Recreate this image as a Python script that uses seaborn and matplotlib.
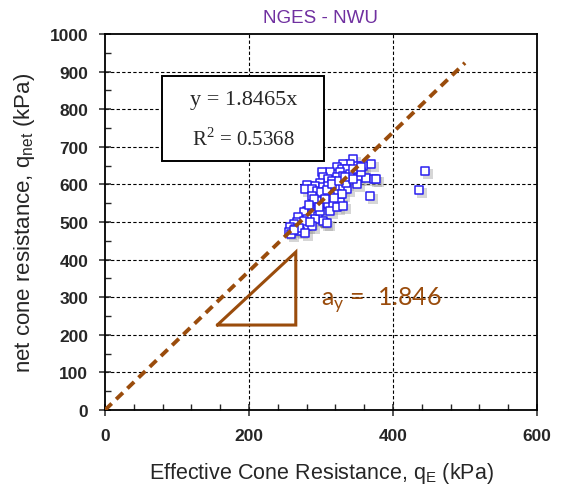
import numpy as np
import pandas as pd
import matplotlib
matplotlib.use("Agg")
import matplotlib.pyplot as plt
import matplotlib.transforms as mtransforms
from matplotlib.patches import Rectangle
import seaborn as sns

# ---- data ----
qE = [345, 370, 359, 350, 340, 330, 322, 329, 336, 319, 326, 312, 301, 303, 310, 322, 331, 340,
      352, 363, 373, 377, 350, 336, 326, 315, 299, 292, 280, 278, 287, 294, 303, 310, 319, 322,
      312, 303, 296, 287, 301, 310, 317, 326, 292, 285, 280, 276, 287, 296, 303, 308, 292, 280,
      268, 266, 273, 280, 287, 262, 257, 264, 271, 255, 259, 276, 299, 312, 322, 331, 294, 306,
      329, 335, 345, 356, 444, 436, 368,
      300, 308, 315, 325, 333, 290, 283, 305, 318, 297, 285, 270, 262, 278, 345, 355]
qnet = [668, 654, 650, 650, 654, 654, 645, 641, 641, 628, 632, 632, 632, 619, 614, 619, 623, 628,
        616, 616, 614, 614, 601, 588, 592, 610, 605, 597, 598, 588, 588, 583, 592, 597, 592, 574,
        570, 570, 566, 570, 552, 548, 548, 552, 543, 539, 530, 526, 521, 517, 503, 497, 508, 508,
        512, 499, 490, 490, 490, 495, 486, 481, 477, 473, 468, 503, 530, 530, 539, 543, 557, 579,
        574, 605, 614, 632, 635, 585, 568,
        580, 585, 600, 610, 620, 560, 545, 560, 565, 540, 500, 485, 478, 470, 640, 645]
qE_gray = [306, 283]
qnet_gray = [497, 596]

slope = 1.8465
r2 = 0.5368
fit_x = np.array([0, 500])
fit_y = slope * fit_x

tri_x = [156, 265, 265, 156]
tri_y = [226, 226, 420, 226]

x_ticks = [0, 200, 400, 600]
y_ticks = [0, 100, 200, 300, 400, 500, 600, 700, 800, 900, 1000]

df = pd.DataFrame({"qE": qE, "qnet": qnet})
dfg = pd.DataFrame({"qE": qE_gray, "qnet": qnet_gray})

# ---- style ----
sns.set_style("ticks")
plt.rcParams["font.family"] = ["Liberation Sans", "DejaVu Sans"]
brown = "#9A4C0C"

fig = plt.figure(figsize=(5.62, 4.89), dpi=100)
ax = fig.add_axes([0.1868, 0.1595, 0.7687, 0.7689])

# grid
for xv in [200, 400]:
    ax.axvline(xv, color="black", lw=0.8, ls=(0, (3, 2)), zorder=0.5)
for yv in y_ticks[1:-1]:
    ax.axhline(yv, color="black", lw=0.8, ls=(0, (3, 2)), zorder=0.5)

# shadows
shadow_tr = mtransforms.offset_copy(ax.transData, fig=fig, x=3, y=-3, units="dots")
ax.scatter(qE + qE_gray, qnet + qnet_gray, marker="s", s=52, color="#9a9a9a",
           alpha=0.4, linewidths=0, transform=shadow_tr, zorder=1)

# points
sns.scatterplot(data=dfg, x="qE", y="qnet", ax=ax, marker="s", s=38,
                facecolor="white", edgecolor="#707070", linewidth=1.1, zorder=2)
sns.scatterplot(data=df, x="qE", y="qnet", ax=ax, marker="s", s=38,
                facecolor="white", edgecolor="#2a1ff0", linewidth=1.1, zorder=3)

# fit line
sns.lineplot(x=fit_x, y=fit_y, ax=ax, color=brown, lw=2.8, ls=(0, (2.4, 1.6)), zorder=4)

# slope triangle
ax.plot(tri_x, tri_y, color=brown, lw=2.2, solid_joinstyle="miter", zorder=4)
ax.text(300, 295, r"a$_\mathregular{y}$ =  1.846", color=brown, fontsize=18,
        family=["Lato", "DejaVu Sans"], va="center", ha="left", zorder=5)

# equation box
ax.add_patch(Rectangle((79, 662), 225, 226, facecolor="white", edgecolor="black",
                       lw=1.4, zorder=6))
ax.text(192, 825, "y = 1.8465x", family=["Liberation Serif"], fontsize=16,
        ha="center", va="center", zorder=7)
ax.text(192, 722, r"R$^\mathregular{2}$ = 0.5368", family=["Liberation Serif"], fontsize=15,
        ha="center", va="center", zorder=7)

ax.set_xlim(0, 600)
ax.set_ylim(0, 1000)
ax.set_xticks(x_ticks)
ax.set_yticks(y_ticks)
ax.set_xticks(np.arange(0, 601, 40), minor=True)
ax.set_yticks(np.arange(0, 1001, 50), minor=True)
ax.tick_params(which="major", direction="inout", length=8, width=1.1, labelsize=12.5)
ax.tick_params(axis="y", which="major", pad=8)
ax.tick_params(axis="x", which="major", pad=9)
ax.tick_params(which="minor", direction="in", length=4, width=1.0)
for lab in ax.get_xticklabels() + ax.get_yticklabels():
    lab.set_fontweight("bold")
for s in ax.spines.values():
    s.set_linewidth(1.3)
    s.set_color("black")

ax.set_xlabel(r"Effective Cone Resistance, q$_\mathregular{E}$ (kPa)", fontsize=15.5, labelpad=12)
ax.set_ylabel(r"net cone resistance, q$_\mathregular{net}$ (kPa)", fontsize=16, labelpad=9)
ax.set_title("NGES - NWU", color="#7030A0", fontsize=13.5, pad=9)

fig.savefig("out.png", dpi=100)
